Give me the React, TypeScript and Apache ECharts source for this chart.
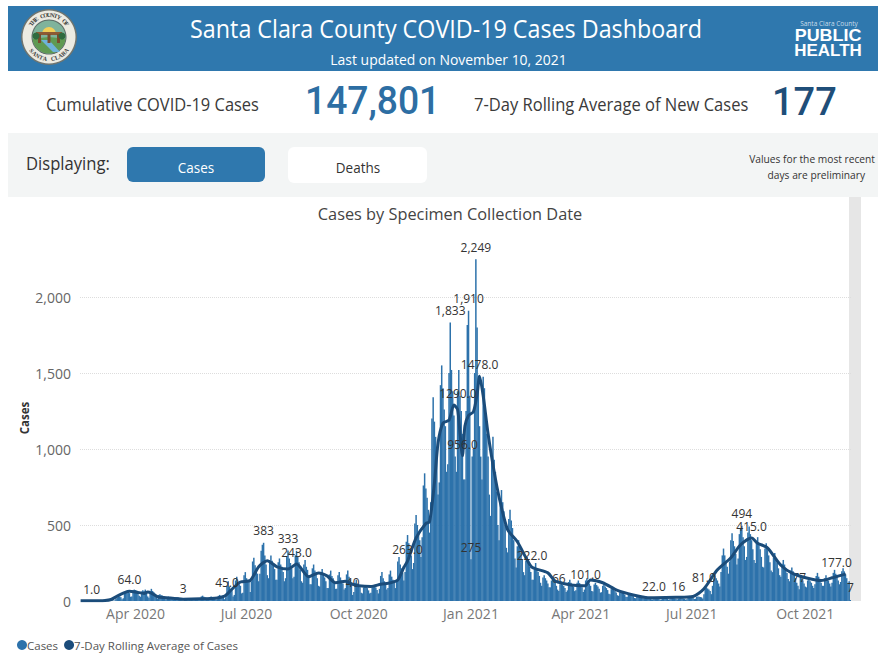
import React, { useEffect, useRef } from "react";
import * as echarts from "echarts";

// Daily case counts, one row per week (Sunday to Saturday), starting Feb 16 2020.
const dailyCases: number[] = [
  0,1,1,1,1,0,0,
  0,1,1,1,2,1,0,
  0,2,3,2,3,2,1,
  1,4,5,6,7,5,3,
  3,15,22,28,30,25,12,
  18,48,58,62,60,52,28,
  30,70,75,72,68,60,35,
  28,62,70,66,75,58,30,
  22,60,80,66,58,48,24,
  15,40,45,38,36,30,16,
  10,28,30,26,24,22,10,
  9,22,25,23,20,18,8,
  3,16,18,15,14,12,6,
  7,18,20,17,16,14,6,
  9,30,35,28,24,22,10,
  8,24,30,25,22,20,9,
  11,34,40,33,30,26,12,
  25,100,130,95,80,70,30,
  40,135,160,125,110,100,50,
  55,170,190,150,135,125,60,
  130,260,285,235,215,180,130,
  180,330,370,383,300,240,170,
  150,270,300,265,250,210,140,
  140,255,280,240,225,190,130,
  150,290,333,280,250,215,150,
  160,300,330,290,255,205,130,
  120,240,270,225,205,170,110,
  110,215,240,200,180,150,100,
  95,185,210,175,155,130,85,
  85,175,200,165,150,120,80,
  80,170,190,155,135,115,75,
  85,175,200,160,140,110,40,
  60,120,140,115,105,90,55,
  50,90,100,92,85,70,50,
  55,92,100,95,88,72,50,
  80,165,190,150,130,110,75,
  85,175,200,160,140,120,85,
  125,260,290,240,215,185,135,
  190,390,434,380,340,300,210,
  250,510,565,500,450,400,290,
  420,760,840,740,680,600,450,
  650,1200,1340,1180,1080,950,700,
  780,1420,1550,1400,1260,1150,850,
  900,1500,1833,1520,1380,1220,950,
  850,1380,1520,1350,1250,1100,800,
  800,1250,1815,1910,1350,275,950,
  1000,1500,2249,1800,1400,1150,950,
  800,1475,1400,1200,1100,950,700,
  560,950,1080,930,850,720,500,
  400,660,730,650,590,500,350,
  320,540,600,530,480,400,280,
  220,360,400,350,315,270,190,
  170,265,290,255,225,190,140,
  140,225,250,215,190,165,120,
  100,155,170,150,135,115,90,
  90,135,150,130,120,100,75,
  66,110,120,108,98,85,60,
  70,125,140,120,110,95,65,
  70,120,135,118,105,90,60,
  75,135,150,130,115,100,65,
  62,108,120,105,95,80,55,
  58,100,110,95,85,72,48,
  45,78,85,74,66,56,38,
  34,58,65,56,50,42,28,
  26,44,50,42,38,32,20,
  18,30,35,30,27,22,14,
  14,25,28,24,22,18,11,
  10,18,20,18,16,14,9,
  10,18,20,17,16,14,9,
  11,20,22,19,17,15,10,
  16,18,20,18,16,13,9,
  12,25,28,24,22,20,13,
  15,27,30,28,26,24,16,
  45,80,90,82,75,65,45,
  100,150,170,150,135,115,95,
  190,300,345,300,265,225,180,
  260,400,445,395,360,310,240,
  280,440,480,494,420,360,270,
  290,450,490,440,400,340,270,
  250,380,420,375,340,290,225,
  220,345,380,335,300,255,200,
  190,285,315,280,250,215,170,
  160,245,270,240,215,185,145,
  130,200,220,195,175,150,120,
  100,77,170,150,135,115,95,
  90,135,150,130,120,100,85,
  110,165,185,160,140,120,100,
  100,150,170,150,135,115,95,
  120,185,205,180,160,135,110,
  125,195,215,195,175,150,120,
  130,7,
];

// Rolling average: day number since the first date, then the value on that day.
const averageDays: number[] = [
  0,9,20,25,30,36,40,46,52,55,58,63,70,84,98,112,118,120,123,131,139,146,153,161,170,177,187,195,
  202,209,217,223,228,238,246,254,260,265,268,275,283,286,290,293,297,302,306,309,311,313,315,318,
  322,325,327,330,334,339,343,350,358,366,370,383,388,391,402,412,414,418,428,440,453,465,470,488,
  502,511,522,533,541,550,555,563,574,584,596,607,617,627,
];
const averageValues: number[] = [
  1,1,3,10,32,55,64,58,50,60,52,28,22,12,14,20,32,45,70,125,135,225,265,225,210,243,160,185,
  165,120,130,110,100,95,110,120,138,222,263,415,510,520,775,1040,1170,1190,1290,1260,1100,956,1150,1220,
  1245,1360,1478,1350,1100,850,685,470,390,270,222,185,138,125,105,100,101,138,120,70,40,22,22,24,
  30,81,205,285,370,415,380,350,235,180,150,135,155,177,
];

// Days whose bar or average point carries a printed value.
const labelledBarDays: number[] = [84, 150, 170, 223, 303, 318, 320, 324, 392, 490, 542, 589, 631];
const labelledAverageDays: number[] = [9, 40, 120, 177, 268, 306, 313, 327, 370, 414, 470, 511, 550, 627];

const quarterDays: number[] = [45, 136, 228, 320, 410, 501, 594];
const quarterLabels: string[] = ["Apr 2020", "Jul 2020", "Oct 2020", "Jan 2021", "Apr 2021", "Jul 2021", "Oct 2021"];

const headerTitle = "Santa Clara County COVID-19 Cases Dashboard";
const headerUpdated = "Last updated on November 10, 2021";
const cumulativeValue = "147,801";
const rollingValue = "177";

const UI_FONT = "'Open Sans', sans-serif";
const BLUE = "#2f78ae";
const LINE_BLUE = "#1b4c7a";
const BAR_BLUE = "#2d72ab";

function withThousands(v: number): string {
  return v.toLocaleString("en-US");
}

function averageText(v: number): string {
  return v.toFixed(1);
}

// Lettering that follows the rim of the county seal.
function sealLetters(text: string, cx: number, cy: number, r: number, startDeg: number, stepDeg: number) {
  return text.split("").map((ch, i) => {
    const deg = startDeg + i * stepDeg;
    const rad = (deg * Math.PI) / 180;
    return {
      type: "text",
      x: cx + r * Math.sin(rad),
      y: cy - r * Math.cos(rad),
      rotation: -rad,
      style: {
        text: ch,
        fill: "#3b3b3b",
        font: "bold 6px 'Liberation Serif', serif",
        textAlign: "center",
        textVerticalAlign: "middle",
      },
    };
  });
}

function sealGraphics() {
  const cx = 49;
  const cy = 37;
  return [
    { type: "circle", shape: { cx, cy, r: 28 }, style: { fill: "#6f7570" } },
    { type: "circle", shape: { cx, cy, r: 26.5 }, style: { fill: "#ecebe2" } },
    { type: "circle", shape: { cx, cy, r: 17.5 }, style: { fill: "#5d6b66" } },
    { type: "circle", shape: { cx, cy, r: 16.5 }, style: { fill: "#7fb39c" } },
    { type: "sector", shape: { cx, cy: cy - 3, r: 7, startAngle: Math.PI, endAngle: 0 }, style: { fill: "#f2cf58" } },
    { type: "sector", shape: { cx, cy, r: 16.5, startAngle: 0.1, endAngle: Math.PI - 0.1 }, style: { fill: "#5f9a52" } },
    { type: "polygon", shape: { points: [[41, 40], [49, 40], [60, 52], [53, 52]] }, style: { fill: "#6fb2d8" } },
    { type: "rect", shape: { x: 36, y: 32, width: 26, height: 3 }, style: { fill: "#8c5a34" } },
    { type: "rect", shape: { x: 38, y: 34, width: 3, height: 9 }, style: { fill: "#7a4c2c" } },
    { type: "rect", shape: { x: 47.5, y: 34, width: 3, height: 9 }, style: { fill: "#7a4c2c" } },
    { type: "rect", shape: { x: 57, y: 34, width: 3, height: 9 }, style: { fill: "#7a4c2c" } },
    { type: "circle", shape: { cx: 36, cy: 36, r: 3.5 }, style: { fill: "#2f6b3f" } },
    { type: "circle", shape: { cx: 62, cy: 36, r: 3.5 }, style: { fill: "#2f6b3f" } },
    ...sealLetters("THE COUNTY OF", cx, cy, 22, -54, 9),
    ...sealLetters("SANTA CLARA", cx, cy, 22, 232, -10.4).map((t: any) => ({ ...t, rotation: t.rotation + Math.PI })),
  ];
}

function pageGraphics() {
  const text = (
    x: number,
    y: number,
    value: string,
    font: string,
    fill: string,
    textAlign: string = "left",
    scaleX: number = 1,
  ) => ({
    type: "text",
    x,
    y,
    z: 10,
    scaleX,
    style: { text: value, font, fill, textAlign, textVerticalAlign: "middle" },
  });
  return [
    { type: "rect", z: -5, shape: { x: 8, y: 6, width: 870, height: 65 }, style: { fill: BLUE } },
    { type: "rect", z: -5, shape: { x: 8, y: 133, width: 870, height: 64 }, style: { fill: "#f3f5f5" } },
    { type: "rect", z: -5, shape: { x: 849, y: 197, width: 12, height: 404 }, style: { fill: "#e6e6e6" } },
    ...sealGraphics(),
    text(446, 28, headerTitle, `26px ${UI_FONT}`, "#ffffff", "center", 0.896),
    text(448.5, 59, headerUpdated, `15px ${UI_FONT}`, "#ffffff", "center", 0.93),
    text(829, 23, "Santa Clara County", `6.5px ${UI_FONT}`, "#c9dcea", "center"),
    text(828, 35.5, "PUBLIC", "bold 16px 'Liberation Sans', sans-serif", "#ffffff", "center", 1.12),
    text(828, 50.5, "HEALTH", "bold 16px 'Liberation Sans', sans-serif", "#ffffff", "center", 1.06),
    text(46, 104, "Cumulative COVID-19 Cases", `17.5px ${UI_FONT}`, "#3a3a3a", "left", 0.94),
    text(305, 101, cumulativeValue, "500 38px Roboto, sans-serif", "#2d6ea3", "left", 0.98),
    text(474, 104, "7-Day Rolling Average of New Cases", `17.5px ${UI_FONT}`, "#3a3a3a", "left", 0.945),
    text(772, 102, rollingValue, "500 38px Roboto, sans-serif", "#1f4e79"),
    text(26, 163, "Displaying:", `17.5px ${UI_FONT}`, "#333333", "left", 0.95),
    {
      type: "rect",
      shape: { x: 127, y: 147, width: 138, height: 35, r: 6 },
      style: { fill: BLUE },
    },
    {
      type: "rect",
      shape: { x: 288, y: 147, width: 139, height: 36, r: 6 },
      style: { fill: "#ffffff" },
    },
    text(196, 167, "Cases", `14.5px ${UI_FONT}`, "#ffffff", "center", 0.93),
    text(358, 167, "Deaths", `14.5px ${UI_FONT}`, "#333333", "center", 0.93),
    text(875, 159, "Values for the most recent", `11px ${UI_FONT}`, "#333333", "right", 0.93),
    text(865, 175, "days are preliminary", `11px ${UI_FONT}`, "#333333", "right", 0.93),
    text(450, 213.5, "Cases by Specimen Collection Date", `17px ${UI_FONT}`, "#444444", "center", 0.96),
    {
      type: "text",
      x: 24,
      y: 418,
      rotation: Math.PI / 2,
      style: {
        text: "Cases",
        font: `bold 11.5px ${UI_FONT}`,
        fill: "#333333",
        textAlign: "center",
        textVerticalAlign: "middle",
      },
    },
  ];
}

export default function App() {
  const ref = useRef<HTMLDivElement>(null);
  useEffect(() => {
    document.body.style.margin = "0";
    const chart = echarts.init(ref.current!, undefined, { renderer: "svg" });
    const categories = dailyCases.map((_, i) => {
      const q = quarterDays.indexOf(i);
      return q >= 0 ? quarterLabels[q] : String(i);
    });
    const labelStyle = { color: "#333333", fontSize: 12, fontFamily: UI_FONT };
    const barData = dailyCases.map((v, i) =>
      labelledBarDays.includes(i)
        ? {
            value: v,
            label: { show: true, position: "top", distance: 6, formatter: withThousands(v), ...labelStyle },
          }
        : v,
    );
    const averageData = averageDays.map((day, i) => {
      const v = averageValues[i];
      if (!labelledAverageDays.includes(day)) return { value: [day, v], symbol: "none" };
      return {
        value: [day, v],
        symbol: "circle",
        symbolSize: 1,
        label: {
          show: true,
          position: "top",
          distance: 5,
          offset: day === 627 ? [-9, 0] : day === 306 ? [4, 0] : [0, 0],
          formatter: averageText(v),
          ...labelStyle,
        },
      };
    });
    chart.setOption({
      animation: false,
      backgroundColor: "#ffffff",
      textStyle: { fontFamily: UI_FONT },
      grid: { left: 80, right: 27, top: 221, bottom: 52, containLabel: false },
      legend: {
        left: 12,
        top: 634,
        itemWidth: 10,
        itemHeight: 10,
        itemGap: 6,
        icon: "circle",
        textStyle: { color: "#555555", fontSize: 11.5, fontFamily: UI_FONT, padding: [0, 0, 0, -5] },
        data: ["Cases", "7-Day Rolling Average of Cases"],
      },
      xAxis: {
        type: "category",
        data: categories,
        boundaryGap: true,
        axisLine: { show: false },
        axisTick: { show: false },
        axisLabel: {
          interval: (i: number) => quarterDays.includes(i),
          formatter: (v: string) => (v.includes(" ") ? v : ""),
          color: "#777777",
          fontSize: 14,
          fontFamily: UI_FONT,
          margin: 5,
          hideOverlap: false,
        },
      },
      yAxis: {
        type: "value",
        min: 0,
        max: 2500,
        interval: 500,
        axisLine: { show: false },
        axisTick: { show: false },
        axisLabel: {
          showMaxLabel: false,
          formatter: (v: number) => withThousands(v),
          color: "#666666",
          fontSize: 14,
          fontFamily: UI_FONT,
          margin: 9,
        },
        splitLine: {
          showMinLine: false,
          showMaxLine: false,
          lineStyle: { color: "#dddddd", type: "dotted", width: 1 },
        },
      },
      series: [
        {
          name: "Cases",
          type: "bar",
          data: barData,
          barWidth: 1.5,
          itemStyle: { color: BAR_BLUE },
          z: 2,
        },
        {
          name: "7-Day Rolling Average of Cases",
          type: "line",
          data: averageData,
          smooth: 0.25,
          showSymbol: true,
          showAllSymbol: true,
          symbol: "none",
          itemStyle: { color: LINE_BLUE },
          lineStyle: { color: LINE_BLUE, width: 3 },
          z: 3,
        },
      ],
      graphic: { elements: pageGraphics() },
    });
    return () => chart.dispose();
  }, []);
  return <div ref={ref} style={{ width: 878, height: 653 }} />;
}
